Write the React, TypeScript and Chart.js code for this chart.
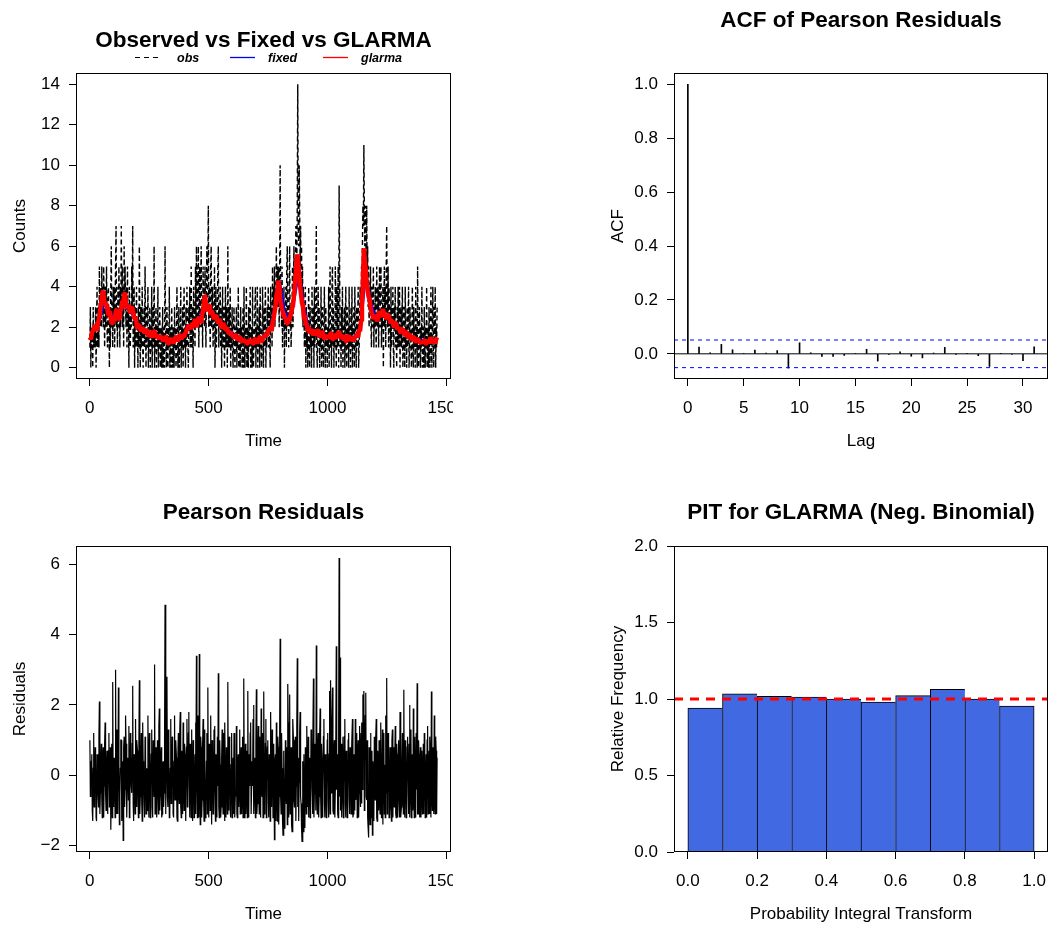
import React, { useEffect, useRef } from "react";
import { Chart, registerables } from "chart.js";

Chart.register(...registerables);

const FONT = "'Liberation Sans', Arial, Helvetica, sans-serif";

// ---------------- Panel 1: observed vs fixed vs GLARMA ----------------
const obsStep = 2; // days between plotted observations (t = 1, 3, 5, ...)
const obsCounts = [
  1,3,0,2,1,2,0,3,1,2, 2,1,3,0,2,4,1,2,3,1, 5,2,3,4,2,
  5,3,4,2,5,3,1,4,2,3, 5,2,1,3,4,2,0,3,1,4, 6,2,3,1,4,
  2,4,1,3,5,7,2,3,1,4, 2,5,3,1,4,2,7,3,5,2, 4,1,6,3,5,
  3,2,4,1,5,2,3,0,4,2, 1,3,2,5,3,7,1,2,4,0, 3,1,2,4,1,
  2,0,3,1,6,2,0,3,1,2, 4,1,0,2,3,1,5,2,0,3, 1,2,4,0,2,
  1,3,0,2,1,4,0,2,3,1, 6,0,2,1,3,0,2,1,4,0, 2,1,3,0,1,
  2,0,1,3,0,2,1,0,6,2, 1,0,3,1,0,2,1,4,0,1, 2,0,3,1,0,
  2,1,0,3,1,2,0,1,4,2, 0,1,3,0,2,1,4,0,2,1, 3,0,2,4,1,
  2,0,3,1,4,2,1,0,3,2, 4,1,2,5,1,3,2,0,4,2, 3,1,5,2,6,
  3,2,4,6,1,3,5,2,4,6, 2,3,1,5,3,4,2,5,3,1, 4,6,3,5,8,
  2,4,3,1,5,6,2,3,4,1, 3,2,5,0,2,4,1,3,2,5, 6,1,3,2,4,
  1,3,0,2,4,1,2,3,0,2, 4,1,3,2,0,6,1,2,3,1, 4,0,2,1,3,
  1,0,2,3,1,0,2,1,3,0, 2,1,4,0,1,2,0,3,1,2, 0,1,3,0,4,
  1,0,2,1,4,0,2,1,0,3, 1,2,4,0,1,2,0,4,1,0, 2,1,3,4,0,
  2,1,4,0,2,1,3,0,4,1, 2,0,1,4,2,0,3,1,2,4, 0,2,1,3,2,
  4,1,3,2,0,4,2,3,1,5, 2,4,3,5,2,4,3,6,4,5, 3,5,4,2,5,
  10,3,4,2,5,1,3,2,4,0, 3,2,4,1,5,6,2,3,1,4, 6,2,3,1,2,
  3,5,2,4,6,3,5,4,7,6, 5,8,14,7,6,10,8,5,7,4, 6,3,5,2,4,
  3,1,2,4,0,3,1,2,0,2, 4,1,0,3,1,2,0,4,1,2, 3,0,4,1,2,
  3,7,1,0,2,4,1,3,0,2, 1,4,0,2,3,1,0,2,4,1, 0,3,1,2,0,
  2,1,4,0,3,5,1,2,0,4, 5,1,3,0,2,1,5,3,0,4, 1,2,5,0,9,
  5,1,2,0,3,1,4,0,2,1, 3,0,2,4,1,0,3,1,2,0, 4,1,2,0,3,
  1,4,0,2,1,3,0,4,2,1, 0,3,1,2,4,0,1,2,4,3, 2,5,4,6,8,
  7,11,8,6,8,7,5,8,4,6, 3,5,2,4,3,5,2,1,4,3, 2,5,1,3,2,
  4,2,1,5,3,2,4,1,3,5, 2,4,5,1,3,2,4,0,3,5, 2,4,1,5,7,
  3,2,5,1,4,2,3,0,4,1, 3,2,4,1,0,3,2,4,1,2, 0,3,1,4,2,
  1,4,0,2,3,1,2,4,0,1, 3,2,0,4,1,2,0,3,1,2, 4,0,1,3,2,
  1,0,2,4,1,0,3,1,2,0, 4,1,2,0,5,1,0,2,3,1, 0,2,1,4,0,
  1,2,0,3,1,0,2,1,4,0, 1,2,0,3,1,0,2,4,1,0, 2,4,1,0,3,
  1,4,0,2,1,3,
];
const glarmaStep = 4;
const glarmaFit = [
  1.5,1.4,1.7,1.8,1.9,2.1,2.0,1.8,2.1,2.3, 2.5,2.9,3.2,3.7,3.8,3.3,3.1,3.2,3.0,2.7, 2.6,2.8,2.4,2.2,2.2,
  2.5,2.3,2.7,2.9,2.7,2.4,2.4,2.8,2.9,3.3, 3.2,3.6,3.7,3.1,2.9,3.0,3.1,2.8,2.7,3.0, 2.9,2.6,2.4,2.5,2.2,
  1.9,2.1,2.1,1.9,1.8,2.0,1.9,1.8,1.7,1.9, 1.8,1.6,1.6,1.8,1.7,1.5,1.6,1.8,1.8,1.6, 1.5,1.6,1.5,1.4,1.6,
  1.4,1.5,1.3,1.4,1.5,1.6,1.3,1.2,1.2,1.4, 1.4,1.3,1.3,1.2,1.4,1.5,1.5,1.3,1.4,1.6, 1.6,1.4,1.5,1.6,1.5,
  1.7,1.8,1.9,2.0,2.1,2.0,1.9,2.1,2.2,2.0, 2.3,2.4,2.0,2.2,2.4,2.5,2.2,2.3,2.6,2.8, 3.4,3.6,3.1,2.9,2.8,
  3.0,3.1,2.6,2.8,2.7,2.5,2.4,2.6,2.5,2.3, 2.2,2.4,2.3,2.0,2.0,2.2,2.1,1.9,1.9,2.0, 1.8,1.7,1.7,1.8,1.6,
  1.6,1.5,1.5,1.6,1.6,1.4,1.4,1.5,1.5,1.3, 1.3,1.4,1.4,1.3,1.3,1.2,1.2,1.3,1.4,1.3, 1.3,1.2,1.2,1.4,1.4,
  1.3,1.2,1.3,1.5,1.5,1.3,1.3,1.5,1.6,1.5, 1.7,1.6,1.7,1.9,1.9,2.0,1.8,2.2,2.4,2.7, 3.0,3.5,3.8,4.3,4.1,
  3.4,3.1,2.9,2.7,2.5,2.5,2.4,2.2,2.2,2.3, 2.4,2.6,2.8,3.0,3.3,3.8,4.4,5.0,5.6,5.2, 4.6,4.0,3.6,3.2,3.0,
  2.4,2.6,2.1,2.2,1.8,2.0,1.7,1.8,1.9,1.7, 1.6,1.8,1.8,1.6,1.7,1.9,1.5,1.6,1.6,1.8, 1.7,1.5,1.4,1.6,1.5,
  1.6,1.5,1.5,1.7,1.7,1.4,1.4,1.6,1.6,1.5, 1.5,1.7,1.8,1.6,1.6,1.5,1.4,1.6,1.5,1.3, 1.3,1.5,1.6,1.4,1.4,
  1.5,1.4,1.3,1.5,1.5,1.6,1.6,1.5,1.9,1.8, 2.3,3.0,4.2,5.9,5.3,4.8,4.2,3.8,3.5,3.4, 3.0,2.7,2.6,2.4,2.5,
  2.6,2.4,2.3,2.5,2.8,2.6,2.5,2.7,2.9,2.7, 2.6,2.5,2.4,2.6,2.6,2.4,2.2,2.3,2.3,2.1, 2.0,2.2,2.2,2.0,1.9,
  2.0,1.8,1.7,1.9,1.9,1.7,1.6,1.8,1.7,1.5, 1.5,1.6,1.6,1.4,1.4,1.5,1.5,1.3,1.3,1.4, 1.4,1.3,1.3,1.2,1.3,
  1.2,1.3,1.4,1.2,1.2,1.3,1.3,1.2,1.5,1.4, 1.2,1.3,1.4,1.2,1.4,1.5,
];
const fixedStep = 20;
const fixedFit = [
  1.6,1.9,2.3,3.2,2.8,2.5,2.6,3.1,2.9,2.6,
  2.1,1.9,1.8,1.7,1.6,1.5,1.4,1.35,1.4,1.5,
  1.7,2.0,2.2,2.4,3.1,2.9,2.6,2.4,2.1,1.9,
  1.7,1.5,1.4,1.3,1.3,1.35,1.4,1.6,1.9,3.2,
  4.1,2.7,2.4,3.4,4.8,3.0,2.0,1.8,1.7,1.6,
  1.55,1.55,1.6,1.55,1.5,1.5,1.55,2.2,4.7,3.3,
  2.5,2.6,2.6,2.4,2.1,1.9,1.8,1.6,1.5,1.4,
  1.35,1.3,1.35,1.4,
];
const seriesNames = ["obs", "fixed", "glarma"];
const timeRange = [-57.4, 1519.4];
const timeTicks = [0, 500, 1000, 1500];
const countRange = [-0.56, 14.56];
const countTicks = [0, 2, 4, 6, 8, 10, 12, 14];

// ---------------- Panel 2: ACF of Pearson residuals ----------------
const acfLags = [0,1,2,3,4,5,6,7,8,9,10,11,12,13,14,15,16,17,18,19,20,21,22,23,24,25,26,27,28,29,30,31];
const acfValues = [
  1.0, 0.025, 0.004, 0.035, 0.015, 0.002, 0.014, 0.003, 0.012, -0.053,
  0.041, 0.004, -0.01, -0.01, -0.006, 0.002, 0.017, -0.027, -0.002, 0.007,
  -0.009, -0.015, 0.003, 0.024, -0.001, 0.002, -0.007, -0.047, 0.001, -0.001,
  -0.025, 0.026,
];
const acfBound = 0.0513;
const lagRange = [-1.24, 32.24];
const lagTicks = [0, 5, 10, 15, 20, 25, 30];
const acfRange = [-0.0934, 1.042];
const acfTicks = [0, 0.2, 0.4, 0.6, 0.8, 1.0];

// ---------------- Panel 3: Pearson residuals ----------------
const residStep = 2;
const residuals = [
  1.0,-0.6,-0.3,0.4,0.6,-1.0,-1.3,0.2,1.2,-0.9, -0.6,0.8,0.5,-1.2,-1.3,0.6,0.3,-0.4,-0.9,1.1, 2.1,-1.1,-0.5,0.3,0.9,-0.7,-1.2,0.5,0.8,-1.2, -0.3,0.9,1.5,-0.5,-1.0,0.2,0.7,-1.1,-0.8,0.7, 1.2,-0.9,-0.2,0.8,-1.55,-0.3,0.9,-1.2,2.65,-0.6,
  -0.9,0.5,0.4,-1.2,3.0,-0.4,-1.1,1.3,0.7,-1.1, 2.5,0.2,-1.4,-0.6,0.2,1.0,1.0,-1.3,-0.7,0.4, -1.85,0.8,1.1,-0.9,-0.4,1.7,0.9,-1.1,-1.2,0.3, 0.5,-0.7,1.4,-1.2,-1.0,1.2,0.6,-0.3,-0.5,0.9, 2.55,-0.8,-1.3,0.6,0.3,-1.1,1.6,-0.4,-0.9,1.0,
  0.7,-0.5,-1.2,0.9,2.7,-1.1,-0.6,0.3,1.2,-0.8, -1.3,1.5,0.4,-0.2,-0.8,-1.2,1.1,0.7,-1.1,0.1, 0.2,-1.0,1.7,-0.4,-1.2,1.2,0.6,-1.2,-0.4,0.6, 1.3,-0.9,-1.2,1.0,0.5,-0.6,3.15,-1.1,-1.0,0.8, 0.3,-1.2,1.0,-0.3,-1.1,1.4,1.9,-1.0,-0.6,0.5,
  0.8,-1.2,-1.1,0.3,0.4,-0.9,-0.5,1.0,4.85,-1.1, -1.0,0.5,2.8,-0.6,-0.9,1.3,0.6,-1.2,-1.1,0.2, 1.6,-0.8,-0.4,1.1,0.9,-1.1,-1.2,0.4,1.7,-0.7, -0.3,1.0,0.5,-1.2,-1.3,0.6,1.2,-0.5,-0.8,1.3, 1.8,-0.9,-1.2,0.7,0.4,-1.1,1.5,-0.4,-1.0,0.9,
  0.6,-1.1,-1.3,0.8,1.6,-0.9,-0.5,1.2,1.8,-0.3, -1.2,0.9,0.4,-1.2,1.3,-0.5,-1.3,1.0,0.7,-1.2, -0.6,0.6,1.5,-1.1,3.4,-0.2,-1.2,1.7,0.3,-1.2, 3.45,-0.3,-1.4,1.1,0.8,-1.2,-0.7,0.9,1.6,-0.6, -1.3,1.3,0.5,-1.2,-1.0,0.4,1.2,-1.1,2.5,-0.6,
  -1.2,0.9,0.4,-1.0,1.7,-0.5,-1.4,1.0,0.8,-1.1, -0.6,1.3,1.4,-0.4,-1.3,0.6,0.5,-1.2,1.1,-0.3, 2.9,-0.9,-1.2,1.0,0.3,-1.2,-0.9,0.5,1.3,-0.6, -1.1,1.2,0.6,-1.3,1.5,-0.2,-1.2,0.8,0.4,-1.1, 2.65,-0.4,-1.0,1.1,0.7,-1.0,-1.2,0.3,1.2,-1.2,
  -0.7,0.5,-1.1,1.2,0.7,-1.2,-0.4,-0.6,1.4,-1.1, -1.2,0.4,0.6,-0.9,-0.3,1.3,-1.1,0.2,0.8,-1.1, -0.5,1.1,-1.2,0.3,2.75,-1.2,-0.4,0.9,-1.1,-0.2, 0.7,-1.2,2.4,-0.7,-1.2,0.6,-0.3,1.2,1.5,-1.1, -1.1,0.4,-0.3,1.6,2.0,-1.1,0.5,-0.6,-1.2,0.9,
  2.45,-1.1,-0.8,0.6,1.4,-0.5,-1.1,1.1,0.4,-1.2, 1.9,-0.4,-0.6,1.2,-1.2,0.5,2.38,-1.1,-0.7,0.9, 1.6,-1.2,-0.2,0.8,1.0,-0.7,-1.2,0.6,0.4,-1.3, 1.8,-0.2,-0.9,1.3,0.7,-1.2,-0.5,0.9,-1.83,0.4, 0.6,-1.3,1.5,-0.4,-1.3,1.1,0.8,-1.4,-0.6,1.3,
  3.88,-0.6,-1.1,1.2,0.2,-1.3,-1.7,0.7,0.5,-1.5, -1.3,1.0,-0.4,-0.8,0.8,-1.4,2.6,1.5,-1.2,-0.3, 2.3,-1.1,-0.5,0.8,-1.4,-1.6,0.4,1.6,1.0,-0.7, -0.9,0.9,1.1,-1.3,-0.3,1.4,3.33,-0.9,0.5,-1.3, -0.2,1.2,1.8,-0.6,-0.8,-1.5,-1.88,0.4,-1.1,-1.6,
  0.6,-1.2,-1.5,0.8,-0.2,-1.1,1.4,-0.3,-0.9,1.1, -1.2,0.5,0.3,-1.2,-0.6,1.3,1.0,-0.4,-1.1,0.7, 2.75,-1.2,-0.5,0.9,0.4,-1.0,3.69,-0.2,-1.1,0.8, 1.2,-1.2,-0.6,1.0,1.9,-0.5,-1.2,0.9,0.4,-1.2, -0.5,1.1,1.6,-0.8,-1.2,0.6,0.3,-1.2,-0.4,1.0,
  1.2,-0.7,-1.2,0.6,2.4,-1.1,2.7,-0.5,0.2,1.3, 2.5,-1.0,-1.1,0.7,1.0,-1.2,-0.4,0.9,3.67,-0.4, 0.6,-1.1,-1.2,1.4,6.18,-0.6,3.35,-1.0,-0.3,0.9, -1.2,-0.3,1.1,-1.2,-0.4,1.1,1.6,-0.8,-1.2,0.7, 0.5,-1.2,-0.5,1.0,1.2,-0.6,-1.1,0.8,0.4,-1.1,
  -0.5,0.9,1.6,-1.2,-1.1,0.6,0.4,-1.0,1.6,-0.7, -0.4,1.2,-1.2,0.5,1.0,-1.2,-0.5,1.4,0.3,-0.9, 1.2,-0.8,1.5,-0.4,2.3,0.6,2.4,-1.0,0.3,1.7, 2.35,-0.6,-0.7,1.0,-1.2,-1.5,-1.77,0.8,-0.8,-1.4, 1.2,-0.5,-1.2,0.7,-1.7,0.4,-0.6,-1.3,1.1,-0.5,
  -0.7,1.1,1.6,-1.2,-1.3,0.7,0.4,-1.0,1.0,-0.6, -1.1,0.9,1.5,-1.2,-0.4,1.3,-1.4,0.6,1.2,-1.1, 0.3,-1.2,1.7,-0.5,2.77,-1.1,-0.6,1.2,1.0,-1.2, -1.1,0.8,0.4,-0.9,-1.3,1.0,1.3,-1.2,-0.3,0.8, -0.9,0.5,1.4,-1.1,-1.2,0.9,0.6,-1.2,-0.2,1.0,
  -0.7,-1.2,1.8,0.5,-1.2,-0.9,0.4,1.2,-0.4,-1.1, 2.43,-0.6,-1.2,1.0,0.5,-1.2,-0.4,0.8,1.1,-0.5, -1.1,0.9,2.0,-1.2,-0.4,1.3,-1.2,0.4,0.6,-1.0, 1.9,-0.5,-1.2,1.1,-0.3,-1.2,1.2,-0.4,2.62,-1.1, -1.1,1.0,0.6,-1.2,-0.4,0.8,-1.2,-0.3,0.7,-1.1,
  -0.3,0.9,-1.1,1.2,0.8,-1.2,-0.4,0.6,-1.2,1.0, 1.4,-1.1,-0.3,0.7,-1.1,1.1,0.6,-1.2,2.38,-0.6, -1.0,0.8,0.5,-1.1,1.7,-0.7,-1.1,1.1,0.7,-1.1, 0.5,
];
const residRange = [-2.18, 6.52];
const residTicks = [-2, 0, 2, 4, 6];

// ---------------- Panel 4: PIT histogram ----------------
const pitBinMids = [0.05, 0.15, 0.25, 0.35, 0.45, 0.55, 0.65, 0.75, 0.85, 0.95];
const pitFreq = [0.941, 1.033, 1.017, 1.013, 1.0, 0.98, 1.022, 1.063, 1.0, 0.954];
const pitRef = 1.0;
const pitXRange = [-0.04, 1.04];
const pitXTicks = [0, 0.2, 0.4, 0.6, 0.8, 1.0];
const pitYRange = [0, 2];
const pitYTicks = [0, 0.5, 1.0, 1.5, 2.0];

// ---------------- helpers ----------------
type Area = { left: number; top: number; right: number; bottom: number };
type LegendItem = { label: string; color: string; dash: number[]; width: number; x0: number; x1: number; tx: number };
type Frame = { title: string; titleY: number; xLabel: string; yLabel: string; legend?: LegendItem[]; legendY?: number };

const minus = (s: string) => s.replace("-", "\u2212");
const fmtInt = (v: number) => minus(String(v));
const fmt1 = (v: number) => minus(v.toFixed(1));

function makeFrame(f: Frame) {
  return {
    id: "rframe",
    afterDraw(chart: any) {
      const ctx = chart.ctx as CanvasRenderingContext2D;
      const a = chart.chartArea;
      ctx.save();
      ctx.setLineDash([]);
      ctx.strokeStyle = "#000";
      ctx.lineWidth = 1;
      const L = Math.round(a.left) + 0.5;
      const T = Math.round(a.top) + 0.5;
      const R = Math.round(a.right) - 0.5;
      const B = Math.round(a.bottom) - 0.5;
      ctx.strokeRect(L, T, R - L, B - T);
      const cx = (a.left + a.right) / 2;
      const cy = (a.top + a.bottom) / 2;
      ctx.fillStyle = "#000";
      ctx.textAlign = "center";
      ctx.textBaseline = "alphabetic";
      ctx.font = `bold 22.5px ${FONT}`;
      ctx.fillText(f.title, cx, f.titleY);
      ctx.font = `17px ${FONT}`;
      ctx.fillText(f.xLabel, cx, a.bottom + 67);
      ctx.save();
      ctx.translate(a.left - 51, cy);
      ctx.rotate(-Math.PI / 2);
      ctx.fillText(f.yLabel, 0, 0);
      ctx.restore();
      if (f.legend) {
        const y = f.legendY || 0;
        ctx.font = `italic bold 12.5px ${FONT}`;
        ctx.textAlign = "left";
        for (const it of f.legend) {
          ctx.beginPath();
          ctx.strokeStyle = it.color;
          ctx.lineWidth = it.width;
          ctx.setLineDash(it.dash);
          ctx.moveTo(it.x0, y + 0.5);
          ctx.lineTo(it.x1, y + 0.5);
          ctx.stroke();
          ctx.setLineDash([]);
          ctx.fillStyle = "#000";
          ctx.fillText(it.label, it.tx, y + 4.5);
        }
      }
      ctx.restore();
    },
  };
}

function axis(kind: "x" | "y", range: number[], ticks: number[], fmt: (v: number) => string, fit: (s: any) => void) {
  return {
    type: "linear",
    min: range[0],
    max: range[1],
    offset: false,
    afterBuildTicks: (s: any) => {
      s.ticks = ticks.map((v) => ({ value: v }));
    },
    afterFit: fit,
    grid: { display: true, offset: false, drawOnChartArea: false, drawTicks: true, tickLength: 7, tickWidth: 1, tickColor: "#000" },
    border: { display: false },
    ticks: {
      color: "#000",
      font: { family: FONT, size: 17 },
      padding: kind === "x" ? 12 : 9,
      maxRotation: 0,
      minRotation: 0,
      autoSkip: false,
      callback: (v: any) => fmt(Number(v)),
    },
  };
}

function scalesFor(w: number, h: number, area: Area, xr: number[], xt: number[], xf: (v: number) => string, yr: number[], yt: number[], yf: (v: number) => string) {
  return {
    x: axis("x", xr, xt, xf, (s: any) => {
      s.height = h - area.bottom;
      s.paddingLeft = 0;
      s.paddingRight = 0;
    }),
    y: axis("y", yr, yt, yf, (s: any) => {
      s.width = area.left;
      s.paddingTop = 0;
      s.paddingBottom = 0;
    }),
  };
}

function baseOptions(w: number, h: number, area: Area, scales: any) {
  return {
    responsive: false,
    maintainAspectRatio: false,
    animation: false,
    devicePixelRatio: 1,
    events: [],
    layout: { padding: { left: 0, top: area.top, right: w - area.right, bottom: 0 } },
    plugins: { legend: { display: false }, tooltip: { enabled: false }, title: { display: false } },
    scales,
  };
}

const noPts = { pointRadius: 0, pointHoverRadius: 0, tension: 0 };

// ---------------- chart builders ----------------
function buildObserved(c: HTMLCanvasElement, w: number, h: number) {
  const area = { left: 76, top: 73, right: 451, bottom: 379 };
  const obsPts = obsCounts.map((v, i) => ({ x: 1 + i * obsStep, y: v }));
  const glPts = glarmaFit.map((v, i) => ({ x: 1 + i * glarmaStep, y: v }));
  const fxPts = fixedFit.map((v, i) => ({ x: 1 + i * fixedStep, y: v }));
  return new Chart(c, {
    type: "line",
    data: {
      datasets: [
        { label: seriesNames[2], data: glPts, borderColor: "#FF0000", borderWidth: 4.5, borderJoinStyle: "bevel", ...noPts },
        { label: seriesNames[1], data: fxPts, borderColor: "#0000FF", borderWidth: 2.5, ...noPts },
        { label: seriesNames[0], data: obsPts, borderColor: "#000000", borderWidth: 1.4, borderDash: [5, 3], ...noPts },
      ],
    } as any,
    options: baseOptions(w, h, area, scalesFor(w, h, area, timeRange, timeTicks, fmtInt, countRange, countTicks, fmtInt)) as any,
    plugins: [
      makeFrame({
        title: "Observed vs Fixed vs GLARMA",
        titleY: 47,
        xLabel: "Time",
        yLabel: "Counts",
        legendY: 57,
        legend: [
          { label: seriesNames[0], color: "#000000", dash: [5, 4], width: 1, x0: 135, x1: 162, tx: 177 },
          { label: seriesNames[1], color: "#0000FF", dash: [], width: 1.3, x0: 230, x1: 255, tx: 268 },
          { label: seriesNames[2], color: "#FF0000", dash: [], width: 1.3, x0: 323, x1: 348, tx: 361 },
        ],
      }),
    ],
  });
}

function buildAcf(c: HTMLCanvasElement, w: number, h: number) {
  const area = { left: 149, top: 73, right: 523, bottom: 379 };
  return new Chart(c, {
    type: "bar",
    data: {
      datasets: [
        {
          type: "bar",
          label: "acf",
          data: acfLags.map((l, i) => ({ x: l, y: acfValues[i] })),
          backgroundColor: "#000000",
          borderWidth: 0,
          barThickness: 1,
          order: 1,
        },
        {
          type: "line",
          label: "zero",
          data: [{ x: lagRange[0], y: 0 }, { x: lagRange[1], y: 0 }],
          borderColor: "#000000",
          borderWidth: 1,
          order: 0,
          ...noPts,
        },
        {
          type: "line",
          label: "upper",
          data: [{ x: lagRange[0], y: acfBound }, { x: lagRange[1], y: acfBound }],
          borderColor: "#0000FF",
          borderWidth: 1,
          borderDash: [4, 4],
          order: 0,
          ...noPts,
        },
        {
          type: "line",
          label: "lower",
          data: [{ x: lagRange[0], y: -acfBound }, { x: lagRange[1], y: -acfBound }],
          borderColor: "#0000FF",
          borderWidth: 1,
          borderDash: [4, 4],
          order: 0,
          ...noPts,
        },
      ],
    } as any,
    options: baseOptions(w, h, area, scalesFor(w, h, area, lagRange, lagTicks, fmtInt, acfRange, acfTicks, fmt1)) as any,
    plugins: [makeFrame({ title: "ACF of Pearson Residuals", titleY: 26.5, xLabel: "Lag", yLabel: "ACF" })],
  });
}

function buildResid(c: HTMLCanvasElement, w: number, h: number) {
  const area = { left: 76, top: 84, right: 451, bottom: 390 };
  return new Chart(c, {
    type: "line",
    data: {
      datasets: [
        {
          label: "residuals",
          data: residuals.map((v, i) => ({ x: 1 + i * residStep, y: v })),
          borderColor: "#000000",
          borderWidth: 1.2,
          ...noPts,
        },
      ],
    } as any,
    options: baseOptions(w, h, area, scalesFor(w, h, area, timeRange, timeTicks, fmtInt, residRange, residTicks, fmtInt)) as any,
    plugins: [makeFrame({ title: "Pearson Residuals", titleY: 57.3, xLabel: "Time", yLabel: "Residuals" })],
  });
}

function buildPit(c: HTMLCanvasElement, w: number, h: number) {
  const area = { left: 149, top: 84, right: 523, bottom: 390 };
  const last = pitFreq.length - 1;
  return new Chart(c, {
    type: "bar",
    data: {
      datasets: [
        {
          type: "bar",
          label: "pit",
          data: pitBinMids.map((m, i) => ({ x: m, y: pitFreq[i] })),
          backgroundColor: "#4169E1",
          borderColor: "#000000",
          borderWidth: (ctx: any) => ({ top: 1, left: 1, right: ctx.dataIndex === last ? 1 : 0, bottom: 0 }),
          borderSkipped: false,
          barPercentage: 1,
          categoryPercentage: 1,
          order: 1,
        },
        {
          type: "line",
          label: "uniform",
          data: [{ x: pitXRange[0], y: pitRef }, { x: pitXRange[1], y: pitRef }],
          borderColor: "#FF0000",
          borderWidth: 3,
          borderDash: [9, 7],
          order: 0,
          ...noPts,
        },
      ],
    } as any,
    options: baseOptions(w, h, area, scalesFor(w, h, area, pitXRange, pitXTicks, fmt1, pitYRange, pitYTicks, fmt1)) as any,
    plugins: [makeFrame({ title: "PIT for GLARMA (Neg. Binomial)", titleY: 57.3, xLabel: "Probability Integral Transform", yLabel: "Relative Frequency" })],
  });
}

function Panel({ w, h, build }: { w: number; h: number; build: (c: HTMLCanvasElement, w: number, h: number) => Chart }) {
  const ref = useRef<HTMLCanvasElement>(null);
  useEffect(() => {
    const chart = build(ref.current as HTMLCanvasElement, w, h);
    return () => chart.destroy();
  }, []);
  return <canvas ref={ref} width={w} height={h} style={{ display: "block", width: w, height: h }} />;
}

export default function App() {
  return (
    <div style={{ position: "absolute", left: 0, top: 0, width: 1051, height: 925, background: "#ffffff", overflow: "hidden" }}>
      <div style={{ position: "absolute", left: 0, top: 0, width: 453, height: 462, overflow: "hidden" }}>
        <Panel w={525} h={462} build={buildObserved} />
      </div>
      <div style={{ position: "absolute", left: 525, top: 0, width: 526, height: 462 }}>
        <Panel w={526} h={462} build={buildAcf} />
      </div>
      <div style={{ position: "absolute", left: 0, top: 462, width: 453, height: 463, overflow: "hidden" }}>
        <Panel w={525} h={463} build={buildResid} />
      </div>
      <div style={{ position: "absolute", left: 525, top: 462, width: 526, height: 463 }}>
        <Panel w={526} h={463} build={buildPit} />
      </div>
    </div>
  );
}
